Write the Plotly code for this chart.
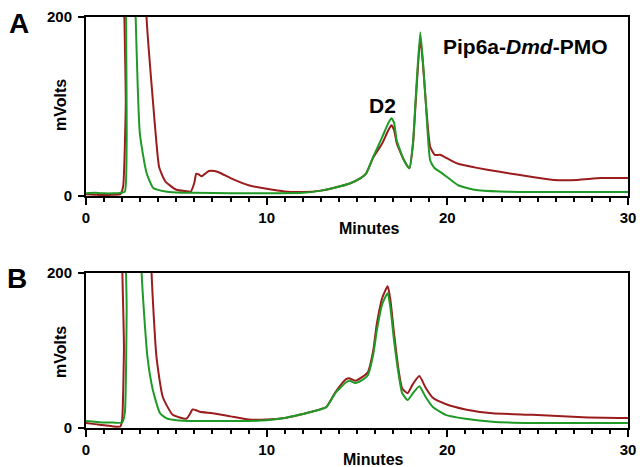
import plotly.graph_objects as go

# ---------------- data (minutes, mVolts) ----------------
a_green_t = [0, 0.5, 1.0, 1.5, 1.9, 2.15, 2.25, 2.35, 2.55, 2.75, 2.98, 3.35, 3.72, 4.4, 5, 6, 8, 10, 12, 13,
             13.7, 14.6, 15.2, 15.5, 15.9, 16.4, 16.7, 16.9, 17.05, 17.2, 17.6, 17.9, 18.1, 18.25, 18.5, 18.65,
             18.8, 19.05, 19.3, 19.6, 20.0, 20.6, 21.5, 22.9, 25, 30]
a_green_v = [3, 3.5, 3, 3, 3.5, 5, 60, 400, 400, 200, 70, 26, 9, 5, 4, 3.5, 3, 3, 3.5, 6,
             9, 14, 20, 25, 44, 66, 80, 87, 82, 62, 40, 31, 60, 110, 183, 150,
             107, 40, 31, 27, 21, 12, 7, 5, 4.5, 4.5]

a_red_t = [0, 0.5, 1.0, 1.5, 1.9, 2.05, 2.2, 2.3, 3.2, 3.35, 3.7, 3.9, 4.05, 4.4, 5.0, 5.5, 5.8, 6.0, 6.1, 6.25,
           6.4, 6.6, 6.8, 7.1, 7.4, 8, 9, 10, 11, 12, 13, 13.7, 14.6, 15.2, 15.5, 15.9, 16.4, 16.7, 16.9,
           17.05, 17.2, 17.6, 17.9, 18.1, 18.25, 18.5, 18.65, 18.8, 19.05, 19.3, 19.6, 20.0, 20.6, 21.5,
           22.9, 24.8, 25.9, 27.2, 28.5, 30]
a_red_v = [2, 1.5, 1, 1.5, 2, 10, 100, 400, 400, 200, 107, 59, 32, 16, 7, 5.5, 5, 15, 25, 24,
           22, 25, 28, 28, 26, 20, 12, 8, 5, 4.5, 6, 9, 14, 20, 25, 43, 59, 72, 79,
           74, 59, 40, 31, 58, 105, 176, 148, 107, 55, 46, 46, 42, 36, 32,
           27, 21, 18, 18, 20, 20]

b_green_t = [0, 0.5, 1.0, 1.5, 2.0, 2.15, 2.25, 2.3, 3.0, 3.08, 3.4, 3.7, 4.1, 4.5, 5, 6, 7, 8, 9, 10, 11,
             11.8, 12.5, 13.3, 13.8, 14.4, 14.6, 14.9, 15.3, 15.6, 15.9, 16.1, 16.4, 16.7, 16.85, 17.05,
             17.3, 17.5, 17.8, 18.1, 18.45, 18.8, 19.2, 19.9, 21, 22.5, 24.7, 30]
b_green_v = [9, 8, 7, 7, 7, 20, 150, 400, 400, 200, 92, 49, 19, 12, 10, 9, 9, 9, 9, 10, 13,
             17, 21, 27, 45, 59, 61, 58, 62, 68, 95, 126, 160, 174, 155, 113,
             70, 45, 36, 45, 54, 40, 27, 17, 12, 8, 6.5, 6.5]

b_red_t = [0, 0.5, 1.0, 1.5, 1.9, 2.0, 2.1, 2.2, 3.5, 3.63, 3.9, 4.25, 4.8, 5.55, 5.75, 5.9, 6.1, 6.3, 7.0,
           8, 9, 10, 11, 11.8, 12.5, 13.3, 13.8, 14.4, 14.6, 14.9, 15.3, 15.6, 15.9, 16.1, 16.4, 16.7,
           16.85, 17.05, 17.3, 17.5, 17.8, 18.1, 18.45, 18.8, 19.2, 19.9, 21, 22.5, 24.7, 27.5, 30]
b_red_v = [6.5, 5, 3.5, 2, 2, 10, 100, 400, 400, 200, 92, 40, 17, 12, 18, 24, 23, 21, 19,
           15, 11, 11, 13, 17, 21, 27, 46, 63, 64, 61, 66, 72, 100, 135, 168, 183,
           165, 122, 75, 51, 45, 57, 67, 52, 39, 31, 24, 19, 17, 14, 13]

x_ticks = [0, 10, 20, 30]
y_ticks = [0, 200]

RED = "#9b1c1c"
GREEN = "#1f9a26"
FONT = "Liberation Sans"

fig = go.Figure()
for t, v, c, ax in [(a_red_t, a_red_v, RED, "A"), (a_green_t, a_green_v, GREEN, "A"),
                    (b_red_t, b_red_v, RED, "B"), (b_green_t, b_green_v, GREEN, "B")]:
    fig.add_trace(go.Scatter(
        x=t, y=v, mode="lines",
        line=dict(color=c, width=2, shape="spline", smoothing=0.5),
        xaxis="x" if ax == "A" else "x2", yaxis="y" if ax == "A" else "y2",
        showlegend=False, hoverinfo="skip"))

W, H = 640, 467
xd = [86 / W, 628 / W]
ya = [1 - 196 / H, 1 - 17 / H]
yb = [1 - 428 / H, 1 - 273 / H]

xcommon = dict(range=[0, 30], tickvals=x_ticks, ticks="outside", ticklen=7, tickwidth=2,
               tickcolor="black", showline=True, linewidth=2, linecolor="black", mirror=True,
               showgrid=False, zeroline=False, ticklabelstandoff=0, automargin=False,
               tickfont=dict(family=FONT, size=15, color="black", weight="bold"),
               minor=dict(dtick=1, ticks="outside", ticklen=4, tickwidth=1.5, tickcolor="black"),
               domain=xd)
ycommon = dict(range=[0, 200], tickvals=y_ticks, ticks="outside", ticklen=6, tickwidth=2,
               tickcolor="black", showline=True, linewidth=2, linecolor="black", mirror=True,
               showgrid=False, zeroline=False, ticklabelstandoff=3, automargin=False,
               tickfont=dict(family=FONT, size=15, color="black", weight="bold"))

fig.update_layout(
    width=W, height=H, margin=dict(l=0, r=0, t=0, b=0, autoexpand=False),
    paper_bgcolor="white", plot_bgcolor="white",
    xaxis=dict(**xcommon, anchor="y"),
    yaxis=dict(**ycommon, domain=ya, anchor="x"),
    xaxis2=dict(**xcommon, anchor="y2"),
    yaxis2=dict(**ycommon, domain=yb, anchor="x2"),
)

def ann(text, x, y, size, angle=0):
    fig.add_annotation(text=text, x=x / W, y=1 - y / H, xref="paper", yref="paper",
                       showarrow=False, textangle=angle, xanchor="center", yanchor="middle",
                       font=dict(family=FONT, size=size, color="black", weight="bold"))

ann("A", 19, 23, 28)
ann("B", 17, 278, 28)
ann("mVolts", 60, 105, 16, -90)
ann("mVolts", 60, 352, 16, -90)
ann("Minutes", 369, 229, 16)
ann("Minutes", 373, 459, 16)
ann("D2", 382, 106, 21)
ann("Pip6a-<i>Dmd</i>-PMO", 525, 47, 21)

fig.write_html("out.html", config={"displayModeBar": False},
               post_script="document.body.style.margin='0';document.body.style.overflow='hidden';")
